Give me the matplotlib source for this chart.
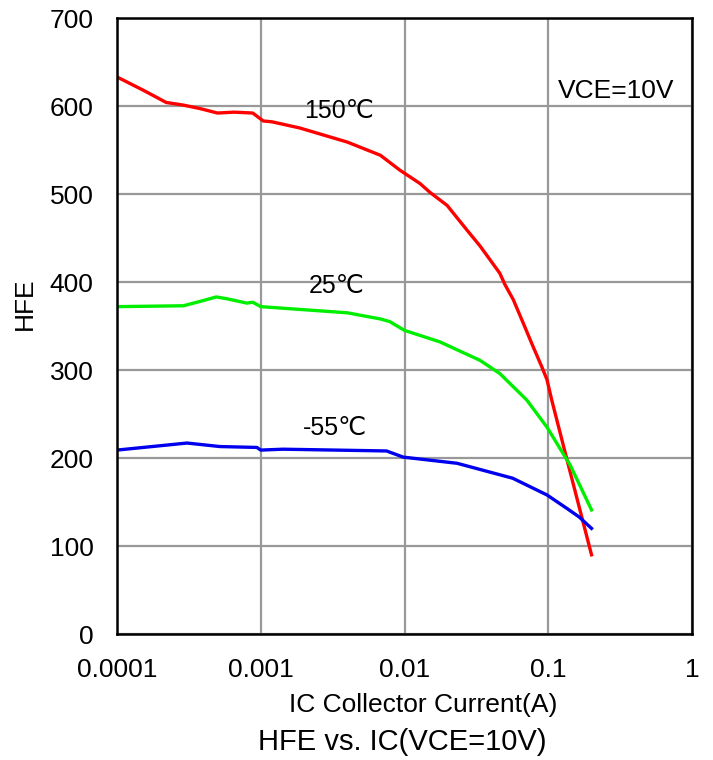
import matplotlib
matplotlib.use("Agg")
import matplotlib.pyplot as plt

plt.rcParams['font.family'] = ['Liberation Sans', 'DejaVu Sans']

# 150 C
ic_150 = [1e-4, 1.52e-4, 2.2e-4, 2.9e-4, 3.8e-4, 5.0e-4, 6.5e-4, 8.8e-4, 1.04e-3, 1.2e-3,
          1.87e-3, 4e-3, 6.8e-3, 9.3e-3, 1.28e-2, 1.5e-2, 1.98e-2, 2.72e-2, 3.35e-2,
          4.6e-2, 5.0e-2, 5.71e-2, 6.71e-2, 7.87e-2, 9.0e-2, 9.8e-2, 1.057e-1,
          1.37e-1, 2.0e-1]
hfe_150 = [633, 618, 604, 601, 597, 592, 593, 592, 583, 582,
           575, 559, 544, 527, 512, 502, 487, 459, 441,
           410, 397, 380, 353, 326, 304, 289, 266,
           194, 90]

# 25 C
ic_25 = [1e-4, 2.9e-4, 3.8e-4, 4.9e-4, 5.8e-4, 8e-4, 8.8e-4, 1.0e-3, 4e-3, 6.8e-3,
         7.9e-3, 1e-2, 1.76e-2, 3.35e-2, 4.6e-2, 7.08e-2, 9.8e-2, 1.42e-1, 2.0e-1]
hfe_25 = [372, 373, 378, 383, 381, 376, 377, 372, 365, 358,
          355, 345, 332, 311, 296, 266, 235, 192, 141]

# -55 C
ic_m55 = [1e-4, 3.07e-4, 5.2e-4, 9.4e-4, 1.0e-3, 1.43e-3, 7.5e-3, 9.8e-3,
          2.32e-2, 5.66e-2, 9.8e-2, 1.34e-1, 1.64e-1, 2.0e-1]
hfe_m55 = [209, 217, 213, 212, 209, 210, 208, 201,
           194, 177, 158, 143, 133, 120]

x_ticks = [0.0001, 0.001, 0.01, 0.1, 1]
x_tick_labels = ["0.0001", "0.001", "0.01", "0.1", "1"]
y_ticks = [0, 100, 200, 300, 400, 500, 600, 700]

fig = plt.figure(figsize=(7.13, 7.6), dpi=100)
ax = fig.add_axes([117/713, 1-634/760, (692-117)/713, (634-18)/760])

ax.plot(ic_150, hfe_150, color='#ff0000', lw=2.4, solid_joinstyle='round')
ax.plot(ic_25, hfe_25, color='#00ee00', lw=2.4, solid_joinstyle='round')
ax.plot(ic_m55, hfe_m55, color='#0000ee', lw=2.4, solid_joinstyle='round')

ax.set_xscale('log')
ax.set_xlim(1e-4, 1)
ax.set_ylim(0, 700)
ax.set_xticks(x_ticks)
ax.set_xticklabels(x_tick_labels)
ax.minorticks_off()
ax.set_yticks(y_ticks)
ax.tick_params(length=0, labelsize=19)
ax.tick_params(axis='y', pad=17)
ax.tick_params(axis='x', pad=17)
ax.grid(True, color='#999999', lw=1.6)
ax.set_axisbelow(True)
for s in ax.spines.values():
    s.set_linewidth(1.8)
    s.set_color('black')

ax.set_ylabel("HFE", fontsize=19, va='center')
ax.yaxis.set_label_coords(-0.16, 0.537)
ax.set_xlabel("IC Collector Current(A)", fontsize=19, va='center')
ax.xaxis.set_label_coords(0.532, -0.115)

fig.text(402/713, 1-742/760, "HFE vs. IC(VCE=10V)", fontsize=21, ha='center', va='center')

ax.text(3.5e-3, 594, "150℃", fontsize=18, ha='center', va='center')
ax.text(3.4e-3, 396, "25℃", fontsize=18, ha='center', va='center')
ax.text(3.3e-3, 234, "-55℃", fontsize=18, ha='center', va='center')
ax.text(0.296, 617, "VCE=10V", fontsize=19, ha='center', va='center')

fig.savefig("out.png", dpi=100)
